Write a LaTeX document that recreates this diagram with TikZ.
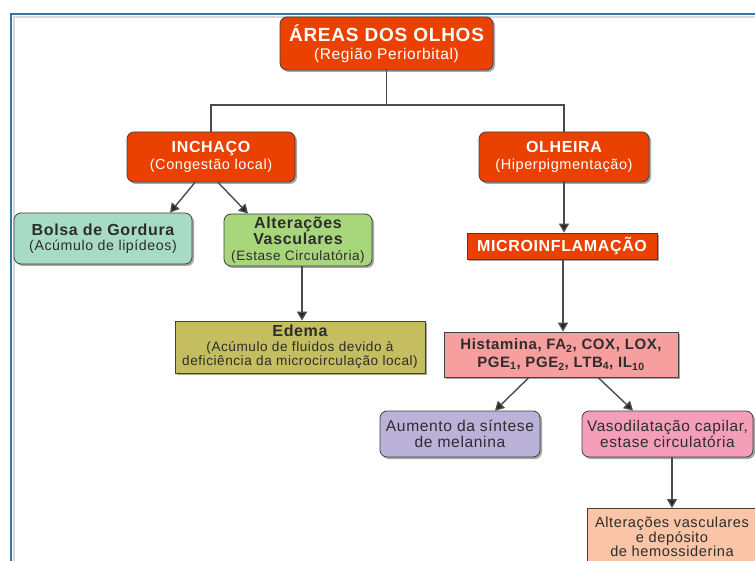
\documentclass[tikz,border=0pt]{standalone}
\usepackage{fontspec}
\setmainfont{Liberation Sans}[LetterSpace=4]
\usetikzlibrary{arrows.meta,shadows}
\definecolor{hot}{RGB}{234,65,0}
\definecolor{teal}{RGB}{168,219,198}
\definecolor{lgreen}{RGB}{168,214,122}
\definecolor{olive}{RGB}{196,190,96}
\definecolor{salmon}{RGB}{247,158,158}
\definecolor{lavender}{RGB}{186,178,216}
\definecolor{pinkish}{RGB}{245,158,186}
\definecolor{peach}{RGB}{250,196,166}
\definecolor{framec}{RGB}{52,118,168}
\definecolor{txt}{RGB}{45,45,45}
\definecolor{linec}{RGB}{75,75,75}
\tikzset{
  box/.style={draw=black!75, line width=0.8pt, align=center, inner sep=0pt,
    drop shadow={shadow xshift=2pt, shadow yshift=-2pt, opacity=0.35, fill=black}},
  rbox/.style={box, rounded corners=7pt},
  hotbox/.style={fill=hot, text=white},
  lightbox/.style={text=txt},
  arr/.style={draw=linec, line width=1.4pt, -{Triangle[length=9pt,width=10pt,fill=black!85]}},
  tree/.style={draw=linec, line width=1.4pt}
}
\begin{document}
\begin{tikzpicture}[x=1pt,y=-1pt]
\useasboundingbox (0,0) rectangle (755,561);
\clip (0,0) rectangle (755,561);
% frame
\draw[black!15, line width=2pt] (14,600) -- (14,17) -- (800,17);
\draw[framec, line width=2pt] (11,600) -- (11,14) -- (800,14);

\node[rbox,hotbox,minimum width=213pt,minimum height=53pt,font=\fontsize{15.5}{18}\selectfont] (title) at (386.5,43.5)
  {{\bfseries\fontsize{19}{18}\selectfont ÁREAS DOS OLHOS}\\(Região Periorbital)};

\node[rbox,hotbox,minimum width=168pt,minimum height=50pt,font=\fontsize{14.5}{17}\selectfont] (inchaco) at (211,157)
  {{\bfseries\fontsize{16}{17}\selectfont INCHAÇO}\\(Congestão local)};

\node[rbox,hotbox,minimum width=170pt,minimum height=50pt,font=\fontsize{14.5}{16.5}\selectfont] (olheira) at (564,157)
  {{\bfseries\fontsize{16}{17}\selectfont OLHEIRA}\\(Hiperpigmentação)};

\node[rbox,lightbox,fill=teal,minimum width=178pt,minimum height=51pt,font=\fontsize{14.2}{15.5}\selectfont] (bolsa) at (103,238.5)
  {{\bfseries\fontsize{16}{16}\selectfont Bolsa de Gordura}\\(Acúmulo de lipídeos)};

\node[rbox,lightbox,fill=lgreen,minimum width=148pt,minimum height=52pt,font=\fontsize{13.6}{16}\selectfont] (alter) at (298,240)
  {{\bfseries\fontsize{16}{16}\selectfont Alterações}\\{\bfseries\fontsize{16}{16}\selectfont Vasculares}\\(Estase Circulatória)};

\node[box,hotbox,minimum width=190pt,minimum height=26pt,font=\bfseries\fontsize{16}{17}\selectfont] (micro) at (562,246)
  {MICROINFLAMAÇÃO};

\node[box,lightbox,fill=olive,minimum width=250pt,minimum height=52pt,font=\fontsize{13.6}{14.5}\selectfont] (edema) at (300,347)
  {{\bfseries\fontsize{16}{14}\selectfont Edema}\\(Acúmulo de fluidos devido à\\deficiência da microcirculação local)};

\node[box,lightbox,fill=salmon,minimum width=234pt,minimum height=45pt,font=\bfseries\fontsize{15}{18}\selectfont] (hist) at (561,354.5)
  {Histamina, FA\textsubscript{2}, COX, LOX,\\PGE\textsubscript{1}, PGE\textsubscript{2}, LTB\textsubscript{4}, IL\textsubscript{10}};

\node[rbox,lightbox,fill=lavender,minimum width=160pt,minimum height=46pt,font=\fontsize{15.6}{16}\selectfont] (aumento) at (460,434)
  {Aumento da síntese\\de melanina};

\node[rbox,lightbox,fill=pinkish,minimum width=171pt,minimum height=46pt,font=\fontsize{15.4}{16}\selectfont] (vaso) at (667.5,434)
  {Vasodilatação capilar,\\estase circulatória};

\node[box,lightbox,fill=peach,minimum width=170pt,minimum height=57pt,anchor=north,font=\fontsize{14.6}{14.5}\selectfont] (final) at (672,508)
  {Alterações vasculares\\e depósito\\de hemossiderina};

% connectors
\coordinate (j) at (386.5,105);
\draw[tree] (title.south) -- (j);
\draw[tree] (inchaco.north) |- (j) -| (olheira.north);
\draw[arr] ([xshift=-16pt]inchaco.south) -- ([xshift=67pt]bolsa.north);
\draw[arr] ([xshift=7pt]inchaco.south) -- ([xshift=-50pt]alter.north);
\draw[arr] (olheira.south) -- (olheira.south |- micro.north);
\draw[arr] ([xshift=4pt]alter.south) -- ([xshift=4pt]alter.south |- edema.north);
\draw[arr] ([xshift=1pt]micro.south) -- ([xshift=1pt]micro.south |- hist.north);
\draw[arr] ([xshift=-32pt]hist.south) -- ([xshift=35pt]aumento.north);
\draw[arr] ([xshift=37pt]hist.south) -- ([xshift=-34.5pt]vaso.north);
\draw[arr] (final.north |- vaso.south) -- (final.north);
\end{tikzpicture}
\end{document}
